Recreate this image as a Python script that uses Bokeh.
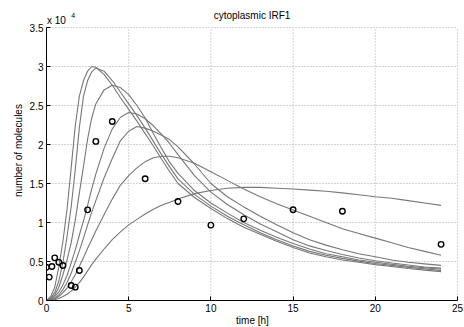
from bokeh.plotting import figure
from bokeh.models import Range1d, FixedTicker, Label
from bokeh.embed import file_html
from bokeh.resources import INLINE

# time grid of the simulated curves [h]
t_sim = [0, 0.25, 0.5, 0.75, 1, 1.25, 1.5, 1.75, 2, 2.25, 2.5, 2.75, 3, 3.5, 4, 4.5,
         5, 5.5, 6, 6.5, 7, 7.5, 8, 9, 10, 11, 12, 13, 14, 15, 16, 17, 18, 19, 20,
         21, 22, 23, 24]

# simulated curves, number of molecules in units of 10^4
curve1 = [0, 0.05, 0.17, 0.43, 0.76, 1.17, 1.70, 2.24, 2.62, 2.82, 2.94, 3.00, 2.99, 2.90, 2.76, 2.60,
          2.45, 2.30, 2.14, 1.98, 1.81, 1.65, 1.50, 1.32, 1.18, 1.05, 0.94, 0.85, 0.76, 0.68, 0.61, 0.56,
          0.52, 0.49, 0.46, 0.435, 0.41, 0.39, 0.37]
curve2 = [0, 0.03, 0.10, 0.25, 0.49, 0.82, 1.20, 1.68, 2.22, 2.62, 2.82, 2.93, 2.98, 2.94, 2.82, 2.67,
          2.52, 2.37, 2.21, 2.04, 1.87, 1.71, 1.56, 1.36, 1.21, 1.08, 0.97, 0.87, 0.78, 0.70, 0.63, 0.58,
          0.54, 0.505, 0.475, 0.45, 0.425, 0.405, 0.385]
curve3 = [0, 0.02, 0.07, 0.17, 0.33, 0.52, 0.74, 1.03, 1.38, 1.72, 2.07, 2.34, 2.52, 2.70, 2.76, 2.73,
          2.64, 2.50, 2.34, 2.14, 1.95, 1.77, 1.63, 1.41, 1.25, 1.12, 1.00, 0.90, 0.81, 0.73, 0.66, 0.60,
          0.56, 0.52, 0.49, 0.465, 0.44, 0.42, 0.40]
curve4 = [0, 0.01, 0.05, 0.11, 0.20, 0.32, 0.48, 0.65, 0.84, 1.02, 1.22, 1.43, 1.62, 1.95, 2.20, 2.35,
          2.41, 2.39, 2.33, 2.24, 2.13, 2.01, 1.87, 1.60, 1.39, 1.23, 1.10, 0.98, 0.88, 0.78, 0.70, 0.64,
          0.59, 0.545, 0.51, 0.48, 0.455, 0.43, 0.415]
curve5 = [0, 0.005, 0.03, 0.07, 0.14, 0.23, 0.35, 0.49, 0.64, 0.80, 0.97, 1.13, 1.28, 1.57, 1.82, 2.05,
          2.17, 2.23, 2.21, 2.17, 2.12, 2.06, 1.97, 1.75, 1.50, 1.33, 1.20, 1.08, 0.97, 0.87, 0.78, 0.71,
          0.65, 0.60, 0.56, 0.52, 0.49, 0.47, 0.45]
curve6 = [0, 0.003, 0.02, 0.05, 0.10, 0.16, 0.24, 0.33, 0.44, 0.55, 0.67, 0.78, 0.89, 1.10, 1.30, 1.48,
          1.60, 1.70, 1.78, 1.83, 1.85, 1.85, 1.83, 1.76, 1.65, 1.54, 1.43, 1.33, 1.24, 1.16, 1.08, 1.00,
          0.92, 0.86, 0.80, 0.74, 0.68, 0.63, 0.58]
curve7 = [0, 0.001, 0.01, 0.025, 0.05, 0.08, 0.12, 0.17, 0.23, 0.30, 0.38, 0.46, 0.53, 0.66, 0.78, 0.88,
          0.97, 1.04, 1.11, 1.17, 1.22, 1.26, 1.30, 1.37, 1.41, 1.44, 1.45, 1.45, 1.44, 1.43, 1.415, 1.40,
          1.38, 1.355, 1.33, 1.31, 1.28, 1.25, 1.22]
curves = [curve1, curve2, curve3, curve4, curve5, curve6, curve7]

# measured data points
t_meas = [0, 0.17, 0.33, 0.5, 0.75, 1, 1.5, 1.75, 2, 2.5, 3, 4, 6, 8, 10, 12, 15, 18, 24]
y_meas = [0.427, 0.30, 0.436, 0.547, 0.49, 0.449, 0.192, 0.171, 0.385, 1.162, 2.04, 2.295, 1.56,
          1.27, 0.966, 1.047, 1.163, 1.145, 0.72]

x_ticks = [0, 5, 10, 15, 20, 25]
y_ticks = [0, 0.5, 1, 1.5, 2, 2.5, 3, 3.5]
y_tick_labels = ["0", "0.5", "1", "1.5", "2", "2.5", "3", "3.5"]
x_lim = (0, 25)
y_lim = (0, 3.5)

FONT = "Liberation Sans"

# frame extends above the axes box so that title and exponent sit inside it
FW, FH = 412, 300
x_end = x_lim[1] * FW / 411.0
y_end = y_lim[1] * FH / 273.0

p = figure(frame_width=FW, frame_height=FH, output_backend="svg", toolbar_location=None,
           x_range=Range1d(0, x_end), y_range=Range1d(0, y_end), title=None,
           min_border_left=46, min_border_right=6, min_border_top=0, min_border_bottom=27)
p.outline_line_color = None
p.background_fill_color = "white"
p.border_fill_color = "white"
p.xgrid.visible = False
p.ygrid.visible = False

# dotted grid at the tick positions, limited to the axes box
gx = [t for t in x_ticks if t > x_lim[0]]
gy = [t for t in y_ticks if t > y_lim[0]]
p.segment(x0=gx, y0=[y_lim[0]] * len(gx), x1=gx, y1=[y_lim[1]] * len(gx),
          line_color="#a8a8a8", line_dash="1 2", line_width=1)
p.segment(x0=[x_lim[0]] * len(gy), y0=gy, x1=[x_lim[1]] * len(gy), y1=gy,
          line_color="#a8a8a8", line_dash="1 2", line_width=1)

for c in curves:
    p.line(t_sim, c, line_color="#777777", line_width=1.1)

p.scatter(t_meas, y_meas, marker="circle", size=5.5, fill_color=None,
          line_color="black", line_width=1.4)

for ax in (p.xaxis[0], p.yaxis[0]):
    ax.axis_line_color = "black"
    ax.axis_line_width = 1
    ax.major_tick_in = 4
    ax.major_tick_out = 0
    ax.minor_tick_line_color = None
    ax.major_tick_line_color = "black"
    ax.major_label_text_font = FONT
    ax.major_label_text_font_size = "10px"
    ax.major_label_text_color = "black"
    ax.axis_label_text_font = FONT
    ax.axis_label_text_font_size = "10px"
    ax.axis_label_text_font_style = "normal"
    ax.axis_label_text_color = "black"

p.xaxis.bounds = x_lim
p.yaxis.bounds = y_lim
p.xaxis.ticker = FixedTicker(ticks=x_ticks)
p.yaxis.ticker = FixedTicker(ticks=y_ticks)
p.yaxis.major_label_overrides = {t: l for t, l in zip(y_ticks, y_tick_labels)}
p.xaxis.axis_label = "time [h]"
p.yaxis.axis_label = "number of molecules"
p.xaxis.major_label_standoff = 3
p.xaxis.axis_label_standoff = 0
p.yaxis.major_label_standoff = 3
p.yaxis.axis_label_standoff = 3

p.add_layout(Label(x=0.03, y=3.585, text="x 10", text_font=FONT, text_font_size="10px",
                   text_baseline="middle", text_align="left", text_color="black"))
p.add_layout(Label(x=1.5, y=3.66, text="4", text_font=FONT, text_font_size="7px",
                   text_baseline="middle", text_align="left", text_color="black"))
p.add_layout(Label(x=12.5, y=3.66, text="cytoplasmic IRF1", text_font=FONT,
                   text_font_size="10px", text_baseline="middle", text_align="center",
                   text_color="black"))

open("out.html", "w").write(file_html(p, INLINE))
